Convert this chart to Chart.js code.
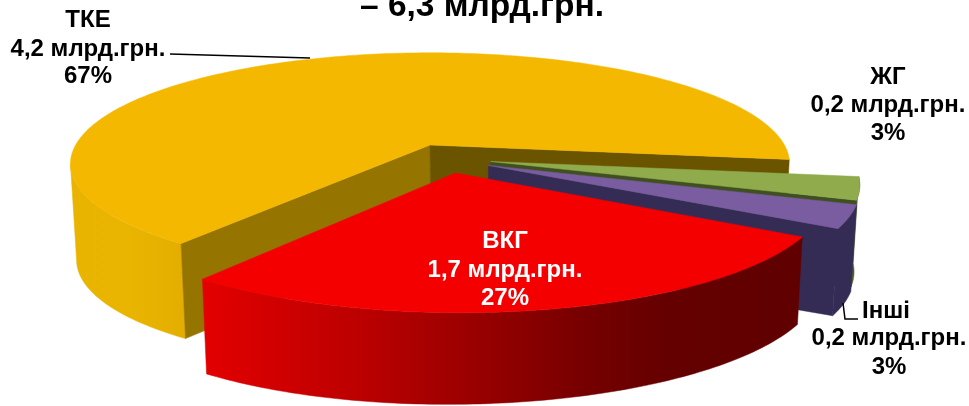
<!DOCTYPE html>
<html><head><meta charset="utf-8">
<style>html,body{margin:0;padding:0;background:#fff;overflow:hidden}canvas{display:block}</style>
<script src="https://cdn.jsdelivr.net/npm/chart.js@4"></script>
</head><body><canvas id="c" width="969" height="406"></canvas>
<script>
const categories = ['ТКЕ','ЖГ','Інші','ВКГ'];
const values = [4.2,0.2,0.2,1.7];
const percents = ['67%','3%','3%','27%'];
const unit = 'млрд.грн.';
const titleText = '– 6,3 млрд.грн.';
const topColors = ['#F4B800','#8FAB4C','#7A5CA0','#F40000'];
const explodeU = [0,0.165,0.158,0.068];
const explodeV = [0,0.148,0.182,0.246];
const radiusScale = [0.99,0.985,0.985,0.975];

const V = {cx:430,cy:145,rx:358,ry:108.8,p:0.17,sx:0.985,sc:480};
function proj(u,v,down){
  const w = 1 - V.p*v;
  let X = V.cx + V.rx*u/w, Y = V.cy + V.ry*v/w;
  if(down){ const h = 95 - 0.012*(X-180); X = V.sc + (X-V.sc)*V.sx; Y += h; }
  return [X,Y];
}
function pt(i,th,r,down){
  return proj(explodeU[i]+r*Math.sin(th), explodeV[i]-r*Math.cos(th), down);
}
function path(ctx,pts,fill){
  ctx.beginPath();
  pts.forEach((p,k)=>k?ctx.lineTo(p[0],p[1]):ctx.moveTo(p[0],p[1]));
  ctx.closePath();
  ctx.fillStyle=fill; ctx.fill();
  ctx.strokeStyle=fill; ctx.lineWidth=0.5; ctx.stroke();
}
function arcPts(i,a,b,down){
  const n=Math.max(4,Math.ceil(Math.abs(b-a)*60)),o=[];
  for(let k=0;k<=n;k++)o.push(pt(i,a+(b-a)*k/n,radiusScale[i],down));
  return o;
}
function wall(ctx,i,a,b,fill){
  const edge=Math.asin(V.p);
  const lo=Math.max(a,Math.PI/2),hi=Math.min(b,3*Math.PI/2-edge);
  if(hi<=lo)return;
  path(ctx,arcPts(i,lo,hi,false).concat(arcPts(i,lo,hi,true).reverse()),fill);
}
function face(ctx,i,th,fill){
  const r=radiusScale[i];
  path(ctx,[pt(i,th,0,false),pt(i,th,r,false),pt(i,th,r,true),pt(i,th,0,true)],fill);
}
function grad(ctx,x0,x1,stops){
  const g=ctx.createLinearGradient(x0,0,x1,0);
  stops.forEach(s=>g.addColorStop(s[0],s[1]));
  return g;
}
const pie3d = {
  id:'pie3d',
  beforeDatasetDraw(chart,args){
    const ctx=chart.ctx, arcs=chart.getDatasetMeta(0).data;
    const ang=arcs.map(a=>[a.startAngle+Math.PI/2,a.endAngle+Math.PI/2]);
    ctx.save();
    ctx.lineJoin='round';
    const [a0,a1]=ang[0];
    const yw=grad(ctx,68,184,[[0,'#E9B400'],[0.5,'#EAB500'],[1,'#E4AE00']]);
    wall(ctx,0,a0,Math.PI*1.5,yw);
    face(ctx,0,a0,'#967400');
    face(ctx,0,a1,'#6B5400');
    path(ctx,arcPts(0,a0,a1,false).concat([pt(0,a0,0,false)]),topColors[0]);
    const wallCols=['','#4F6228','#352C55'];
    const faceCols=['','#3F4F20','#352C55'];
    [1,2].forEach(i=>{
      let [a,b]=ang[i]; a-=2*Math.PI*(a>2*Math.PI?1:0); b-=2*Math.PI*(b>2*Math.PI?1:0);
      wall(ctx,i,a,b,wallCols[i]);
      face(ctx,i,b,faceCols[i]);
      path(ctx,arcPts(i,a,b,false).concat([pt(i,a,0,false)]),topColors[i]);
    });
    let [ra,rb]=ang[3]; ra-=2*Math.PI*(ra>2*Math.PI?1:0); rb-=2*Math.PI*(rb>2*Math.PI?1:0);
    wall(ctx,3,ra,rb,grad(ctx,200,805,[[0,'#E40000'],[0.25,'#BE0000'],[0.45,'#9A0000'],[0.65,'#740000'],[0.78,'#640000'],[1,'#600000']]));
    path(ctx,arcPts(3,ra,rb,false).concat([pt(3,ra,0,false)]),topColors[3]);
    ctx.restore();
    return false;
  },
  afterDraw(chart){
    const ctx=chart.ctx;
    ctx.save();
    ctx.textAlign='center'; ctx.textBaseline='middle';
    ctx.fillStyle='#000';
    ctx.font='bold 33.5px "Liberation Sans", Arial, sans-serif';
    ctx.fillText(titleText,482,7);
    const fmt=v=>v.toFixed(1).replace('.',',')+' '+unit;
    const lbl=(i,x,ys,col)=>{
      ctx.fillStyle=col;
      ctx.font='bold 24px "Liberation Sans", Arial, sans-serif';
      [categories[i],fmt(values[i]),percents[i]].forEach((t,k)=>ctx.fillText(t,k===0&&i===2?x-3:x,ys[k]));
    };
    lbl(0,88,[20,49,76],'#000');
    lbl(1,888,[77,105,133],'#000');
    lbl(2,889,[311,338,367],'#000');
    lbl(3,505,[241,270,298],'#fff');
    ctx.strokeStyle='#000'; ctx.lineWidth=1.5;
    ctx.beginPath(); ctx.moveTo(170,54); ctx.lineTo(310,58); ctx.stroke();
    ctx.beginPath(); ctx.moveTo(843,303); ctx.lineTo(845,319); ctx.lineTo(858,319); ctx.stroke();
    ctx.restore();
  }
};
new Chart(document.getElementById('c'),{
  type:'pie',
  data:{labels:categories,datasets:[{data:values,backgroundColor:topColors,borderWidth:0}]},
  options:{responsive:false,animation:false,rotation:217.5,
    layout:{padding:0},
    plugins:{legend:{display:false},tooltip:{enabled:false},title:{display:false}}},
  plugins:[pie3d]
});
</script></body></html>
